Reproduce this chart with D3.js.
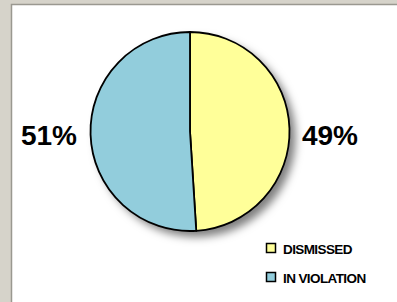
<!DOCTYPE html>
<html>
<head>
<meta charset="utf-8">
<script src="https://cdn.jsdelivr.net/npm/d3@7"></script>
<style>
  body { margin: 0; background: #d6d3ca; }
  svg { display: block; }
</style>
</head>
<body>
<div id="pie"></div>
<script>
const categories = ["DISMISSED", "IN VIOLATION"];
const values = [49, 51];
const labels = ["49%", "51%"];
const colors = ["#ffff99", "#92cddc"];

const width = 397, height = 302;
const cx = 190, cy = 131.5, radius = 99.5;

const svg = d3.select("#pie").append("svg")
  .attr("width", width)
  .attr("height", height);

// window panel
svg.append("rect")
  .attr("x", 11.5).attr("y", 4.5)
  .attr("width", width).attr("height", height)
  .attr("fill", "#ffffff")
  .attr("stroke", "#9a9890")
  .attr("stroke-width", 1.5);

const defs = svg.append("defs");
const shadow = defs.append("filter").attr("id", "shadow")
  .attr("x", "-20%").attr("y", "-20%").attr("width", "150%").attr("height", "150%");
shadow.append("feDropShadow")
  .attr("dx", 6).attr("dy", 6).attr("stdDeviation", 4)
  .attr("flood-color", "#000").attr("flood-opacity", 0.5);

const pie = d3.pie().sort(null).value(d => d);
const arc = d3.arc().innerRadius(0).outerRadius(radius);

const g = svg.append("g").attr("transform", `translate(${cx},${cy})`);

g.append("circle").attr("r", radius).attr("fill", "#fff").attr("filter", "url(#shadow)");

g.selectAll("path")
  .data(pie(values))
  .join("path")
  .attr("d", arc)
  .attr("fill", (d, i) => colors[i])
  .attr("stroke", "#000")
  .attr("stroke-width", 1.8)
  .attr("stroke-linejoin", "round");

// percent labels
const labelPos = [[330, 145], [49, 145]];
svg.selectAll(".pct")
  .data(labels)
  .join("text")
  .attr("class", "pct")
  .attr("x", (d, i) => labelPos[i][0])
  .attr("y", (d, i) => labelPos[i][1])
  .attr("text-anchor", "middle")
  .style("font-family", "'Liberation Sans', Arial, sans-serif")
  .style("font-weight", "bold")
  .style("font-size", "28px")
  .attr("fill", "#000")
  .text(d => d);

// legend
const legend = svg.append("g").attr("transform", "translate(266,243)");
const item = legend.selectAll("g")
  .data(categories)
  .join("g")
  .attr("transform", (d, i) => `translate(0,${i * 29})`);
item.append("rect")
  .attr("x", 0.5).attr("y", 0.5)
  .attr("width", 9).attr("height", 9)
  .attr("fill", (d, i) => colors[i])
  .attr("stroke", "#000")
  .attr("stroke-width", 1.5);
item.append("text")
  .attr("x", 17).attr("y", 10.5)
  .style("font-family", "'Liberation Sans', Arial, sans-serif")
  .style("font-weight", "bold")
  .style("font-size", "13.5px")
  .style("letter-spacing", "-0.6px")
  .attr("fill", "#000")
  .text(d => d);
</script>
</body>
</html>
